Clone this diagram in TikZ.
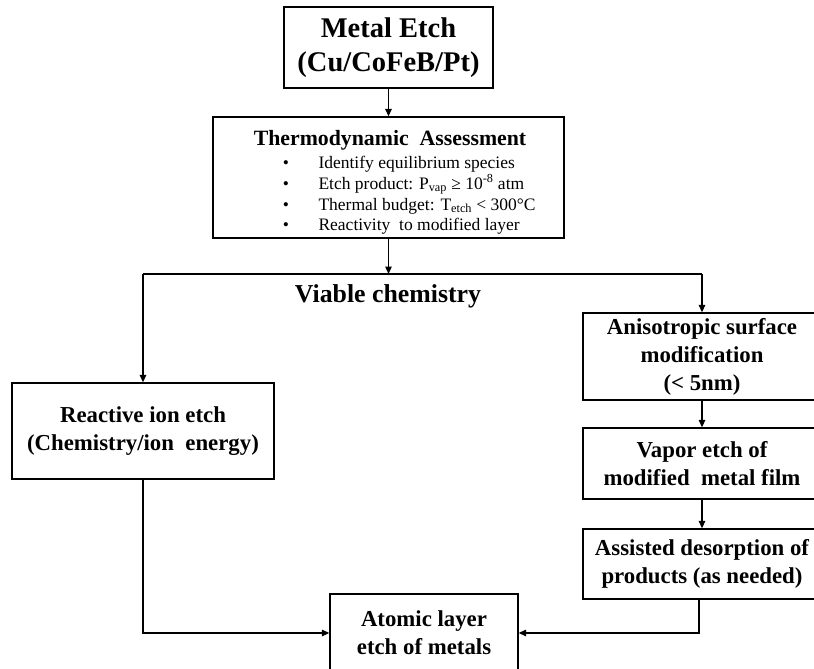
\documentclass[tikz,border=0pt]{standalone}
\usepackage{fontspec}
\setmainfont{Liberation Serif}
\usetikzlibrary{arrows.meta}
\begin{document}
\begin{tikzpicture}[x=1pt,y=-1pt,
  box/.style={draw, line width=1.3pt, inner sep=0pt, align=center,
    font=\bfseries\fontsize{22.8}{28}\selectfont},
  conn/.style={line width=1.3pt, -{Triangle[length=7.5pt,width=6.5pt]}},
  plain/.style={line width=1.3pt},
  bul/.style={anchor=base, font=\fontsize{17.5}{20}\selectfont},
  btxt/.style={anchor=base west, font=\fontsize{17.5}{20}\selectfont}]
\useasboundingbox (0,0) rectangle (814,669);
\fill[white] (0,0) rectangle (814,669);

\node[box, minimum width=209pt, minimum height=81pt,
  font=\bfseries\fontsize{28.5}{34}\selectfont] (me) at (388.5,47.5) {Metal Etch\\(Cu/CoFeB/Pt)};

\node[draw, line width=1.3pt, minimum width=351pt, minimum height=121pt, inner sep=0pt] (th) at (388.5,177.5) {};
\node[anchor=base, font=\bfseries\fontsize{21.8}{24}\selectfont] (tht) at (390,145) {Thermodynamic\ \ Assessment};
\node[bul] (d1) at (286,168) {•};
\node[bul] (d2) at (286,189) {•};
\node[bul] (d3) at (286,210) {•};
\node[bul] (d4) at (286,230) {•};
\node[btxt] (b1) at (315,168) {Identify equilibrium species};
\node[btxt] (b2) at (315,189) {Etch product: P\textsubscript{vap} ≥ 10\textsuperscript{-8} atm};
\node[btxt] (b3) at (315,210) {Thermal budget: T\textsubscript{etch} < 300°C};
\node[btxt] (b4) at (315,230) {Reactivity\ \ to modified layer};

\node[anchor=base, font=\bfseries\fontsize{25.8}{28}\selectfont] (vc) at (388,302) {Viable chemistry};

\node[box, minimum width=262pt, minimum height=96pt] (rie) at (143,431) {Reactive ion etch\\(Chemistry/ion\ \ energy)};
\node[box, minimum width=238pt, minimum height=87pt] (an) at (702,356.5) {Anisotropic surface\\modification\\(< 5nm)};
\node[box, minimum width=238pt, minimum height=71pt] (vap) at (702,463.5) {Vapor etch of\\modified\ \ metal film};
\node[box, minimum width=238pt, minimum height=70pt] (ad) at (702,564) {Assisted desorption of\\products (as needed)};
\node[box, minimum width=188pt, minimum height=78pt] (ale) at (424,633) {Atomic layer\\etch of metals};

\coordinate (split) at (388.5,274);
\coordinate (lft) at (143,274);
\coordinate (rgt) at (702,274);

\draw[conn] (me) -- (th);
\draw[conn] (th.south) -- (split);
\draw[plain] (lft) -- (rgt);
\draw[conn] (lft) -- (rie.north);
\draw[conn] (rgt) -- (an.north);
\draw[conn] (an) -- (vap);
\draw[conn] (vap) -- (ad);
\draw[conn] (rie.south) |- (ale.west);
\draw[conn] ([xshift=-3pt]ad.south) |- (ale.east);
\end{tikzpicture}
\end{document}
